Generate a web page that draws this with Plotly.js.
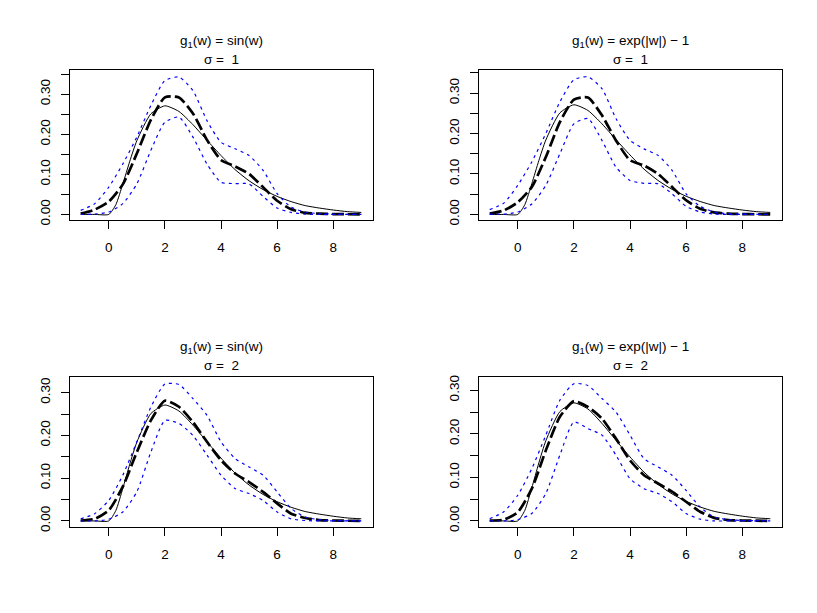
<!DOCTYPE html>
<html>
<head>
<meta charset="utf-8">
<script src="https://cdn.plot.ly/plotly-3.0.1.min.js"></script>
<style>html,body{margin:0;padding:0;background:#fff;}#chart{width:817px;height:613px;}</style>
</head>
<body>
<div id="chart"></div>
<script>
// ---- data ----
const xGrid = [-1, -0.5, 0, 0.5, 1, 1.5, 2, 2.5, 3, 3.5, 4, 4.5, 5, 5.5, 6, 6.5, 7, 7.5, 8, 8.5, 9];

const xTrue = [-1, -0.5, 0, 0.25, 0.5, 0.75, 1, 1.5, 2, 2.5, 3, 3.5, 4, 4.5, 5, 5.5, 6, 6.5, 7, 7.5, 8, 8.5, 9];
const trueDensity = [0, 0, 0, 0.024, 0.076, 0.133, 0.184, 0.251, 0.271, 0.257, 0.224, 0.185, 0.147, 0.112, 0.084, 0.062, 0.045, 0.032, 0.022, 0.016, 0.011, 0.007, 0.005];

// panel 1: g1(w)=sin(w), sigma=1
const estSin1   = [0.002, 0.012, 0.032, 0.075, 0.152, 0.236, 0.292, 0.292, 0.252, 0.186, 0.136, 0.120, 0.101, 0.068, 0.034, 0.013, 0.004, 0.002, 0.001, 0.0005, 0.0002];
const upperSin1 = [0.010, 0.027, 0.068, 0.126, 0.193, 0.272, 0.334, 0.343, 0.309, 0.234, 0.180, 0.164, 0.147, 0.110, 0.052, 0.018, 0.006, 0.002, 0.001, 0.0005, 0.0003];
const lowerSin1 = [0.000, 0.001, 0.006, 0.027, 0.076, 0.160, 0.230, 0.243, 0.193, 0.126, 0.080, 0.077, 0.076, 0.045, 0.016, 0.005, 0.001, 0, 0, 0, 0];

// panel 2: g1(w)=exp(|w|)-1, sigma=1
const estExp1   = [0.002, 0.010, 0.030, 0.068, 0.142, 0.228, 0.284, 0.289, 0.245, 0.183, 0.134, 0.121, 0.100, 0.068, 0.035, 0.014, 0.005, 0.002, 0.001, 0.0005, 0.0002];
const upperExp1 = [0.012, 0.028, 0.072, 0.130, 0.200, 0.278, 0.333, 0.340, 0.311, 0.237, 0.183, 0.162, 0.146, 0.109, 0.051, 0.020, 0.006, 0.002, 0.001, 0.0005, 0.0003];
const lowerExp1 = [0.001, 0.001, 0.006, 0.026, 0.072, 0.150, 0.224, 0.237, 0.183, 0.117, 0.084, 0.077, 0.076, 0.051, 0.020, 0.006, 0.001, 0, 0, 0, 0];

// panel 3: g1(w)=sin(w), sigma=2
const estSin2   = [0.001, 0.005, 0.025, 0.080, 0.161, 0.235, 0.281, 0.267, 0.231, 0.185, 0.142, 0.111, 0.091, 0.068, 0.041, 0.017, 0.007, 0.002, 0.001, 0.0005, 0.0002];
const upperSin2 = [0.005, 0.017, 0.048, 0.107, 0.185, 0.266, 0.320, 0.319, 0.286, 0.247, 0.185, 0.146, 0.126, 0.107, 0.068, 0.029, 0.009, 0.003, 0.001, 0.0005, 0.0003];
const lowerSin2 = [0, 0, 0.004, 0.021, 0.068, 0.161, 0.235, 0.228, 0.200, 0.154, 0.107, 0.076, 0.064, 0.048, 0.021, 0.005, 0.001, 0, 0, 0, 0];

// panel 4: g1(w)=exp(|w|)-1, sigma=2
const estExp2   = [0.001, 0.003, 0.020, 0.074, 0.162, 0.239, 0.275, 0.262, 0.235, 0.189, 0.139, 0.105, 0.086, 0.067, 0.044, 0.021, 0.007, 0.002, 0.001, 0.0005, 0.0002];
const upperExp2 = [0.005, 0.021, 0.059, 0.120, 0.197, 0.277, 0.315, 0.311, 0.281, 0.250, 0.197, 0.143, 0.124, 0.105, 0.070, 0.032, 0.009, 0.003, 0.001, 0.0005, 0.0003];
const lowerExp2 = [0, 0, 0.003, 0.017, 0.063, 0.151, 0.227, 0.212, 0.197, 0.151, 0.097, 0.074, 0.063, 0.044, 0.017, 0.004, 0, 0, 0, 0, 0];

const titleLine1 = ["g<sub>1</sub>(w) = sin(w)", "g<sub>1</sub>(w) = exp(|w|) \u2212 1", "g<sub>1</sub>(w) = sin(w)", "g<sub>1</sub>(w) = exp(|w|) \u2212 1"];
const titleLine2 = ["\u03c3 = \u00a01", "\u03c3 = \u00a01", "\u03c3 = \u00a02", "\u03c3 = \u00a02"];

const xTickVals = [0, 2, 4, 6, 8];
const xTickText = ["0", "2", "4", "6", "8"];
const yTickVals = [0, 0.10, 0.20, 0.30];
const yTickText = ["0.00", "0.10", "0.20", "0.30"];
const yMinorTop = [0.05, 0.15, 0.25, 0.35];
const yMinorBottom = [0.05, 0.15, 0.25];

// ---- layout ----
const W = 817, H = 613;
const panels = [
  {est: estSin1, up: upperSin1, lo: lowerSin1, yr: [-0.0139, 0.3604], minor: yMinorTop, left: 69.5, top: 70},
  {est: estExp1, up: upperExp1, lo: lowerExp1, yr: [-0.0137, 0.3570], minor: yMinorTop, left: 478.5, top: 70},
  {est: estSin2, up: upperSin2, lo: lowerSin2, yr: [-0.0130, 0.3377], minor: yMinorBottom, left: 69.5, top: 376.5},
  {est: estExp2, up: upperExp2, lo: lowerExp2, yr: [-0.0128, 0.3316], minor: yMinorBottom, left: 478.5, top: 376.5}
];
const boxW = 303, boxH = 150;
const font = {family: "Liberation Sans, Arial, Helvetica, sans-serif", size: 13.5, color: "#000"};

const traces = [];
const layout = {
  width: W, height: H,
  margin: {l: 0, r: 0, t: 0, b: 0},
  paper_bgcolor: "#fff", plot_bgcolor: "#fff",
  showlegend: false,
  font: font,
  annotations: []
};

panels.forEach((p, i) => {
  const n = i + 1;
  const xa = n === 1 ? "x" : "x" + n;
  const ya = n === 1 ? "y" : "y" + n;
  const spl = {shape: "spline", smoothing: 0.6};
  traces.push({x: xTrue, y: trueDensity, xaxis: xa, yaxis: ya, mode: "lines",
    line: Object.assign({color: "#000", width: 1}, spl), hoverinfo: "skip"});
  traces.push({x: xGrid, y: p.est, xaxis: xa, yaxis: ya, mode: "lines",
    line: Object.assign({color: "#000", width: 2.7, dash: "12px,4px"}, spl), hoverinfo: "skip"});
  traces.push({x: xGrid, y: p.up, xaxis: xa, yaxis: ya, mode: "lines",
    line: Object.assign({color: "#0000ff", width: 1.2, dash: "3px,4px"}, spl), hoverinfo: "skip"});
  traces.push({x: xGrid, y: p.lo, xaxis: xa, yaxis: ya, mode: "lines",
    line: Object.assign({color: "#0000ff", width: 1.2, dash: "3px,4px"}, spl), hoverinfo: "skip"});

  const x0 = p.left / W, x1 = (p.left + boxW) / W;
  const y1 = 1 - p.top / H, y0 = 1 - (p.top + boxH) / H;
  const axCommon = {showgrid: false, zeroline: false, showline: true, mirror: true,
    linecolor: "#000", linewidth: 1, ticks: "outside", ticklen: 8, tickwidth: 1, tickcolor: "#000",
    tickfont: font, fixedrange: true};
  layout[n === 1 ? "xaxis" : "xaxis" + n] = Object.assign({}, axCommon, {
    domain: [x0, x1], anchor: ya, range: [-1.4, 9.4],
    tickmode: "array", tickvals: xTickVals, ticktext: xTickText, ticklabelstandoff: 7
  });
  layout[n === 1 ? "yaxis" : "yaxis" + n] = Object.assign({}, axCommon, {
    domain: [y0, y1], anchor: xa, range: p.yr,
    tickmode: "array", tickvals: yTickVals, ticktext: yTickText, tickangle: -90, ticklabelstandoff: 5,
    minor: {tickmode: "array", tickvals: p.minor, ticks: "outside", ticklen: 8, tickwidth: 1, tickcolor: "#000", showgrid: false}
  });
  const cx = (p.left + boxW / 2) / W;
  layout.annotations.push({xref: "paper", yref: "paper", x: cx, y: 1 - (p.top - 29) / H,
    text: titleLine1[i], showarrow: false, xanchor: "center", yanchor: "middle", font: font});
  layout.annotations.push({xref: "paper", yref: "paper", x: cx, y: 1 - (p.top - 11) / H,
    text: titleLine2[i], showarrow: false, xanchor: "center", yanchor: "middle", font: font});
});

Plotly.newPlot("chart", traces, layout, {staticPlot: true, displayModeBar: false});
</script>
</body>
</html>
